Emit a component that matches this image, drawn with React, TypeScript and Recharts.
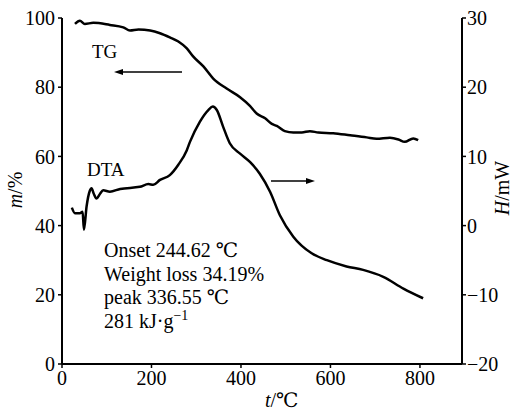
import React from 'react';
import { LineChart, Line, XAxis, YAxis } from 'recharts';

const tgTemp = [29, 40, 51, 70, 107, 137, 152, 171, 197, 219, 241, 260, 279, 293, 316, 338, 368, 398, 420, 435, 454, 469, 480, 498, 517, 536, 554, 573, 606, 644, 681, 703, 733, 752, 766, 785, 796];
const tgMass = [98.3, 99.2, 98.3, 98.6, 98.0, 97.3, 96.4, 96.7, 96.4, 95.6, 94.4, 93.2, 91.2, 88.9, 86.0, 82.5, 79.6, 77.1, 74.6, 72.4, 71.0, 69.4, 68.8, 67.3, 66.9, 66.9, 67.3, 66.9, 66.7, 66.1, 65.5, 65.1, 65.4, 64.9, 64.2, 65.2, 64.7];

const dtaTemp = [22, 29, 40, 46, 49, 55, 62, 66, 71, 77, 85, 92, 107, 130, 174, 193, 204, 219, 241, 260, 279, 286, 308, 327, 337, 346, 360, 375, 398, 420, 442, 465, 487, 517, 558, 592, 636, 673, 718, 763, 807];
const dtaHeat = [2.6, 1.8, 1.8, 2.0, -0.6, 2.8, 5.0, 5.4, 4.6, 3.9, 4.6, 5.1, 4.9, 5.3, 5.6, 6.0, 5.9, 6.6, 7.3, 8.8, 10.9, 12.1, 15.0, 16.7, 17.2, 16.7, 14.3, 11.9, 10.4, 9.2, 7.5, 4.9, 1.5, -1.6, -4.0, -5.0, -5.9, -6.4, -7.4, -9.1, -10.5];

const xTicks = [0, 200, 400, 600, 800];
const massTicks = [0, 20, 40, 60, 80, 100];
const heatTicks = [-20, -10, 0, 10, 20, 30];

const tgData = tgTemp.map((t, i) => ({ t, m: tgMass[i] }));
const dtaData = dtaTemp.map((t, i) => ({ t, h: dtaHeat[i] }));

const FONT = '"Liberation Serif", "DejaVu Serif", serif';
const tickStyle = { fill: '#000', fontSize: 20, fontFamily: FONT };
const fmtSigned = (v: number) => (v < 0 ? '\u2212' + Math.abs(v) : String(v));

export default function App() {
  return (
    <div style={{ position: 'absolute', left: 0, top: 0, width: 514, height: 412, background: '#fff' }}>
      <LineChart width={514} height={412} margin={{ top: 18, right: 0, bottom: 0, left: 0 }}>
        <XAxis
          dataKey="t"
          type="number"
          domain={[0, 894]}
          ticks={xTicks}
          allowDataOverflow
          height={48}
          axisLine={{ stroke: '#000', strokeWidth: 2 }}
          tickLine={{ stroke: '#000', strokeWidth: 1.5 }}
          tickSize={4}
          tickMargin={3}
          tick={tickStyle}
        />
        <YAxis
          yAxisId="m"
          domain={[0, 100]}
          ticks={massTicks}
          width={62}
          axisLine={{ stroke: '#000', strokeWidth: 2 }}
          tickLine={{ stroke: '#000', strokeWidth: 1.5 }}
          tickSize={4}
          tickMargin={3}
          tick={tickStyle}
        />
        <YAxis
          yAxisId="h"
          orientation="right"
          domain={[-20, 30]}
          ticks={heatTicks}
          width={52}
          axisLine={{ stroke: '#000', strokeWidth: 2 }}
          tickLine={{ stroke: '#000', strokeWidth: 1.5 }}
          tickSize={4}
          tickMargin={1}
          tick={tickStyle}
          tickFormatter={fmtSigned}
        />
        <Line yAxisId="m" data={tgData} dataKey="m" type="monotone" stroke="#000" strokeWidth={2.5} dot={false} isAnimationActive={false} />
        <Line yAxisId="h" data={dtaData} dataKey="h" type="monotone" stroke="#000" strokeWidth={2.5} dot={false} isAnimationActive={false} />
      </LineChart>
      <svg width={514} height={412} style={{ position: 'absolute', left: 0, top: 0, pointerEvents: 'none' }} fontFamily={FONT} fill="#000">
        <text x={92} y={58} fontSize={19}>TG</text>
        <line x1={121} y1={72} x2={182} y2={72} stroke="#000" strokeWidth={1.5} />
        <polygon points="114,72 123,69 123,75" fill="#000" />
        <text x={87} y={176} fontSize={19}>DTA</text>
        <line x1={271} y1={181} x2={308} y2={181} stroke="#000" strokeWidth={1.5} />
        <polygon points="315,181 306,178 306,184" fill="#000" />
        <text x={104} y={257} fontSize={20}>Onset 244.62 ℃</text>
        <text x={104} y={281} fontSize={20}>Weight loss 34.19%</text>
        <text x={104} y={304} fontSize={20}>peak 336.55 ℃</text>
        <text x={104} y={328} fontSize={20}>281 kJ·g<tspan dy={-8} fontSize={14}>−1</tspan></text>
        <text x={265} y={407} fontSize={20}><tspan fontStyle="italic">t</tspan>/℃</text>
        <text transform="translate(22,190) rotate(-90)" textAnchor="middle" fontSize={20}><tspan fontStyle="italic">m</tspan>/%</text>
        <text transform="translate(509,188) rotate(-90)" textAnchor="middle" fontSize={20}><tspan fontStyle="italic">H</tspan>/mW</text>
      </svg>
    </div>
  );
}
